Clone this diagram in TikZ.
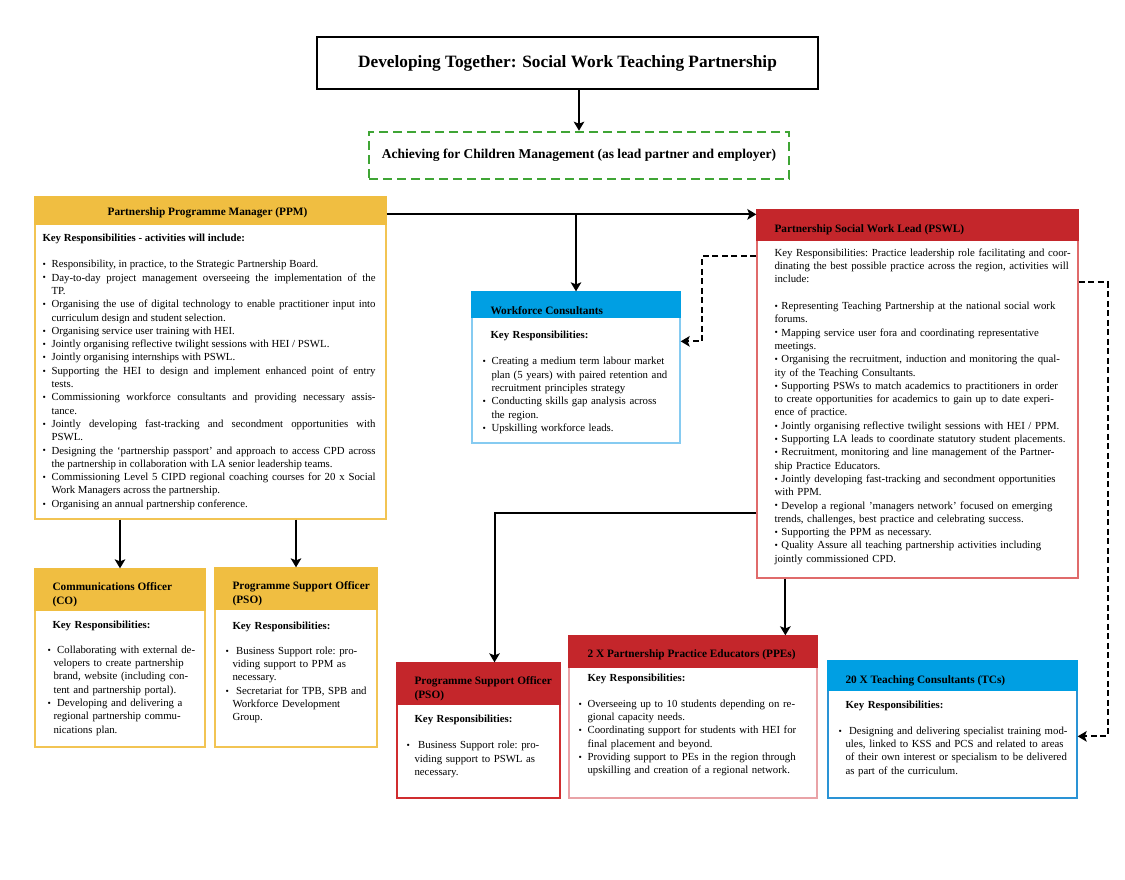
\documentclass[tikz,border=0pt]{standalone}
\usepackage{fontspec}
\setmainfont{Liberation Serif}
\usepackage{xcolor}
\usetikzlibrary{arrows.meta, positioning, calc}

\definecolor{ppmyellow}{HTML}{F0BE41}
\definecolor{ppmline}{HTML}{F2C453}
\definecolor{leadred}{HTML}{C4262B}
\definecolor{leadline}{HTML}{E06B6B}
\definecolor{ppeline}{HTML}{E9A3A7}
\definecolor{psored}{HTML}{D02D2F}
\definecolor{wcblue}{HTML}{009FE3}
\definecolor{wcline}{HTML}{86CBF1}
\definecolor{tcline}{HTML}{2A93D5}
\definecolor{acmgreen}{HTML}{3FA535}

\newcommand{\titlefont}{\fontsize{17.3}{20}\selectfont\bfseries}
\newcommand{\acmfont}{\fontsize{13.5}{16}\selectfont\bfseries}
\newcommand{\headfont}{\fontsize{11.3}{14}\selectfont\bfseries}
\newcommand{\bodyfont}{\fontsize{10.8}{13.3}\selectfont\frenchspacing}
\newcommand{\dotb}{\raisebox{0.2pt}{\fontsize{9.5}{9.5}\selectfont\textbullet}}
\newcommand{\hitem}[1][9pt]{\par\noindent\hangindent=#1\hangafter=1\makebox[#1][l]{\dotb}}
\newcommand{\headbar}[3]{\fill[#3] (#1.north west) rectangle ($(#1.north east)+(0,#2)$);}

\begin{document}
\begin{tikzpicture}[
    x=1pt, y=-1pt,
    card/.style={draw, line width=1.3pt, inner sep=0pt},
    headtxt/.style={font=\headfont, inner sep=0pt, anchor=west, align=left},
    bodytxt/.style={font=\bodyfont, inner sep=0pt, anchor=north west, align=left},
    link/.style={line width=2pt, -{Stealth[length=9pt, width=10.5pt, inset=2pt]}},
    dashlink/.style={link, dash pattern=on 6pt off 3.5pt}
]
    \fill[white] (0,0) rectangle (1125,879);
    \useasboundingbox (0,0) rectangle (1125,879);

    % Title and lead partner
    \node [card, draw=black, line width=2pt, minimum width=501pt, minimum height=52pt, font=\titlefont] (title) at (567.5,63) {Developing Together: Social Work Teaching Partnership};
    \node [draw=acmgreen, line width=2.6pt, dash pattern=on 9pt off 5pt, minimum width=420pt, minimum height=47pt, inner sep=0pt, font=\acmfont] (acm) at (579,155.5) {Achieving for Children Management (as lead partner and employer)};

    % Boxes
    \node [card, draw=ppmline, minimum width=351pt, minimum height=322pt] (ppm) at (210.5,358) {};
    \node [card, draw=wcline, minimum width=208pt, minimum height=151pt] (wc) at (576,367.5) {};
    \node [card, draw=leadline, minimum width=321pt, minimum height=368pt] (pswl) at (917.5,394) {};
    \node [card, draw=ppmline, minimum width=170pt, minimum height=178pt] (co) at (120,658) {};
    \node [card, draw=ppmline, minimum width=162pt, minimum height=179pt] (pso) at (296,657.5) {};
    \node [card, draw=psored, minimum width=163pt, minimum height=135pt] (psosw) at (478.5,730.5) {};
    \node [card, draw=ppeline, minimum width=248pt, minimum height=162pt] (ppe) at (693,717) {};
    \node [card, draw=tcline, minimum width=249pt, minimum height=137pt] (tc) at (952.5,729.5) {};

    % Header bars
    \headbar{ppm}{29}{ppmyellow}
    \headbar{wc}{27}{wcblue}
    \headbar{pswl}{32}{leadred}
    \headbar{co}{43}{ppmyellow}
    \headbar{pso}{43}{ppmyellow}
    \headbar{psosw}{43}{leadred}
    \headbar{ppe}{33}{leadred}
    \headbar{tc}{31}{wcblue}

    % Header texts
    \node [headtxt, anchor=center] (ppmhead) at ($(ppm.north)+(-3,16)$) {Partnership Programme Manager (PPM)};
    \node [headtxt] (wchead) at ($(wc.north west)+(19,19)$) {Workforce Consultants};
    \node [headtxt] (pswlhead) at ($(pswl.north west)+(18,20)$) {Partnership Social Work Lead (PSWL)};
    \node [headtxt] (cohead) at ($(co.north west)+(18,26)$) {Communications Officer\\(CO)};
    \node [headtxt] (psohead) at ($(pso.north west)+(18,26)$) {Programme Support Officer\\(PSO)};
    \node [headtxt] (psoswhead) at ($(psosw.north west)+(18,26)$) {Programme Support Officer\\(PSO)};
    \node [headtxt] (ppehead) at ($(ppe.north west)+(19,19)$) {2 X Partnership Practice Educators (PPEs)};
    \node [headtxt] (tchead) at ($(tc.north west)+(18,20)$) {20 X Teaching Consultants (TCs)};

    % Body texts
    \node [bodytxt, align=justify, text width=333pt] (ppmbody) at ($(ppm.north west)+(8,37)$) {%
        \noindent\textbf{Key Responsibilities - activities will include:}\par\vspace{13.5pt}
        \hitem Responsibility, in practice, to the Strategic Partnership Board.
        \hitem Day-to-day project management overseeing the implementation of the\linebreak TP.
        \hitem Organising the use of digital technology to enable practitioner input into\linebreak curriculum design and student selection.
        \hitem Organising service user training with HEI.
        \hitem Jointly organising reflective twilight sessions with HEI / PSWL.
        \hitem Jointly organising internships with PSWL.
        \hitem Supporting the HEI to design and implement enhanced point of entry\linebreak tests.
        \hitem Commissioning workforce consultants and providing necessary assis-\linebreak tance.
        \hitem Jointly developing fast-tracking and secondment opportunities with\linebreak PSWL.
        \hitem Designing the ‘partnership passport’ and approach to access CPD across\linebreak the partnership in collaboration with LA senior leadership teams.
        \hitem Commissioning Level 5 CIPD regional coaching courses for 20 x Social\linebreak Work Managers across the partnership.
        \hitem Organising an annual partnership conference.\par};

    \node [bodytxt, text width=200pt] (wcbody) at ($(wc.north west)+(11,39)$) {%
        \noindent\hspace*{8pt}\textbf{Key Responsibilities:}\par\vspace{13.5pt}
        \hitem Creating a medium term labour market\newline plan (5 years) with paired retention and\newline recruitment principles strategy
        \hitem Conducting skills gap analysis across\newline the region.
        \hitem Upskilling workforce leads.\par};

    \node [bodytxt, text width=320pt] (pswlbody) at ($(pswl.north west)+(18,39)$) {%
        \noindent Key Responsibilities: Practice leadership role facilitating and coor-\\
        dinating the best possible practice across the region, activities will\\
        include:\\[13.5pt]
        \dotb\ Representing Teaching Partnership at the national social work\\
        forums.\\
        \dotb\ Mapping service user fora and coordinating representative\\
        meetings.\\
        \dotb\ Organising the recruitment, induction and monitoring the qual-\\
        ity of the Teaching Consultants.\\
        \dotb\ Supporting PSWs to match academics to practitioners in order\\
        to create opportunities for academics to gain up to date experi-\\
        ence of practice.\\
        \dotb\ Jointly organising reflective twilight sessions with HEI / PPM.\\
        \dotb\ Supporting LA leads to coordinate statutory student placements.\\
        \dotb\ Recruitment, monitoring and line management of the Partner-\\
        ship Practice Educators.\\
        \dotb\ Jointly developing fast-tracking and secondment opportunities\\
        with PPM.\\
        \dotb\ Develop a regional ’managers network’ focused on emerging\\
        trends, challenges, best practice and celebrating success.\\
        \dotb\ Supporting the PPM as necessary.\\
        \dotb\ Quality Assure all teaching partnership activities including\\
        jointly commissioned CPD.\par};

    \node [bodytxt, text width=180pt] (cobody) at ($(co.north west)+(13,52)$) {%
        \noindent\hspace*{5pt}\textbf{Key Responsibilities:}\par\vspace{12pt}
        \hitem[6pt] Collaborating with external de-\newline velopers to create partnership\newline brand, website (including con-\newline tent and partnership portal).
        \hitem[6pt] Developing and delivering a\newline regional partnership commu-\newline nications plan.\par};

    \node [bodytxt, text width=180pt] (psobody) at ($(pso.north west)+(11,54)$) {%
        \noindent\hspace*{7pt}\textbf{Key Responsibilities:}\par\vspace{12pt}
        \hitem[7pt] Business Support role: pro-\newline viding support to PPM as\newline necessary.
        \hitem[7pt] Secretariat for TPB, SPB and\newline Workforce Development\newline Group.\par};

    \node [bodytxt, text width=180pt] (psoswbody) at ($(psosw.north west)+(10,52)$) {%
        \noindent\hspace*{8pt}\textbf{Key Responsibilities:}\par\vspace{13.5pt}
        \hitem[8pt] Business Support role: pro-\newline viding support to PSWL as\newline necessary.\par};

    \node [bodytxt, text width=260pt] (ppebody) at ($(ppe.north west)+(10,38)$) {%
        \noindent\hspace*{9pt}\textbf{Key Responsibilities:}\par\vspace{13pt}
        \hitem Overseeing up to 10 students depending on re-\newline gional capacity needs.
        \hitem Coordinating support for students with HEI for\newline final placement and beyond.
        \hitem Providing support to PEs in the region through\newline upskilling and creation of a regional network.\par};

    \node [bodytxt, text width=260pt] (tcbody) at ($(tc.north west)+(11,40)$) {%
        \noindent\hspace*{7pt}\textbf{Key Responsibilities:}\par\vspace{13pt}
        \hitem[7pt] Designing and delivering specialist training mod-\newline ules, linked to KSS and PCS and related to areas\newline of their own interest or specialism to be delivered\newline as part of the curriculum.\par};

    % Solid connectors
    \draw [link] (title.south -| acm.north) -- (acm.north);
    \coordinate (pj) at ($(ppm.north east)+(0,18)$);
    \draw [link] (pj) -- (pj -| pswl.west);
    \draw [link] (pj -| wc.north) -- (wc.north);
    \draw [link] (co.north |- ppm.south) -- (co.north);
    \draw [link] (pso.north |- ppm.south) -- (pso.north);
    \coordinate (pk) at ($(pswl.north west)+(0,304)$);
    \draw [link] (pk) -| ($(psosw.north)+(16,0)$);
    \coordinate (pm) at ($(pswl.south west)+(29,0)$);
    \draw [link] (pm) -- (pm |- ppe.north);

    % Dashed connectors
    \coordinate (pd) at ($(pswl.north west)+(0,47)$);
    \draw [dashlink] (pd) -- ++(-54,0) |- ($(wc.north east)+(0,50)$);
    \coordinate (pe) at ($(pswl.north east)+(0,73)$);
    \draw [dashlink] (pe) -- ++(29,0) |- ($(tc.north east)+(0,76)$);
\end{tikzpicture}
\end{document}
